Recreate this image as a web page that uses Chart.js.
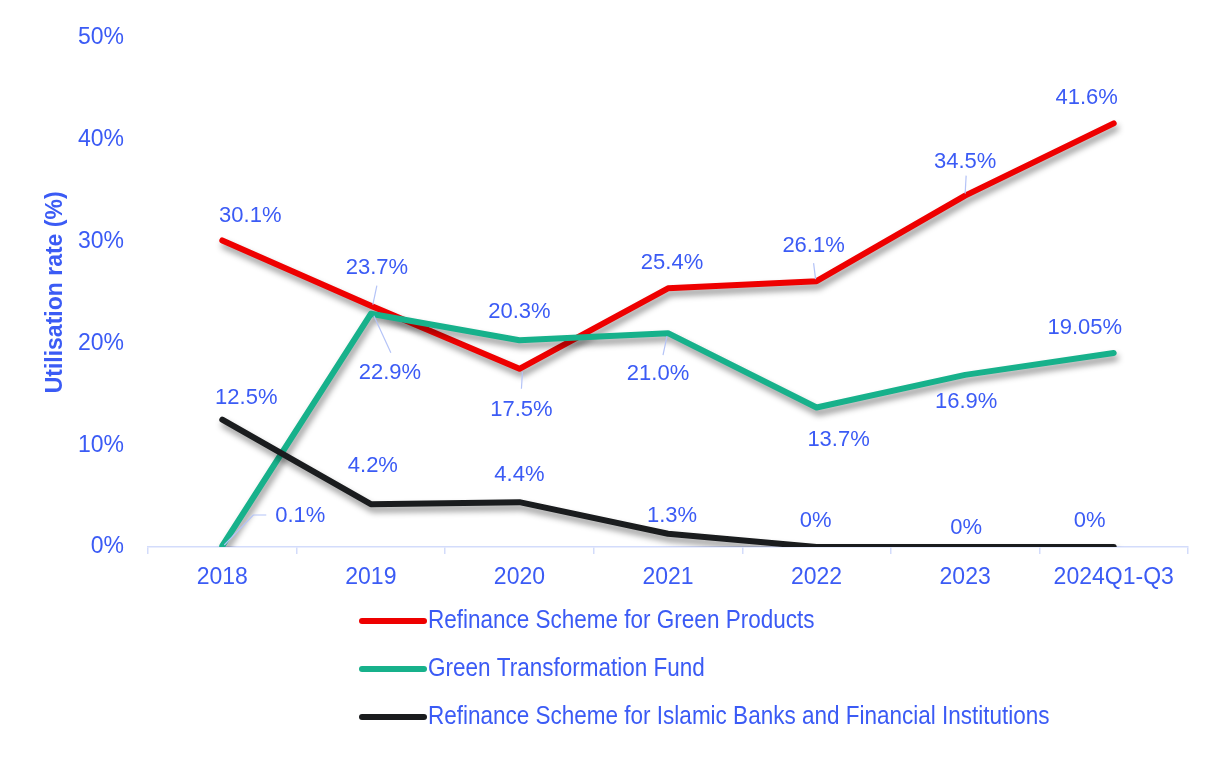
<!DOCTYPE html>
<html>
<head>
<meta charset="utf-8">
<script src="https://cdn.jsdelivr.net/npm/chart.js@4.4.1/dist/chart.umd.min.js"></script>
<style>
  html, body { margin: 0; padding: 0; background: #fff; }
  #wrap { width: 1228px; height: 768px; }
</style>
</head>
<body>
<div id="wrap"><canvas id="utilChart" width="1228" height="768"></canvas></div>
<script>
// Daten
const years = ['2018', '2019', '2020', '2021', '2022', '2023', '2024Q1-Q3'];
const seriesNames = [
    'Refinance Scheme for Green Products',
    'Green Transformation Fund',
    'Refinance Scheme for Islamic Banks and Financial Institutions'
];
const greenProducts = [30.1, 23.7, 17.5, 25.4, 26.1, 34.5, 41.6];
const greenTransformation = [0.1, 22.9, 20.3, 21.0, 13.7, 16.9, 19.05];
const islamicBanks = [12.5, 4.2, 4.4, 1.3, 0, 0, 0];
const greenProductsText = ['30.1%', '23.7%', '17.5%', '25.4%', '26.1%', '34.5%', '41.6%'];
const greenTransformationText = ['0.1%', '22.9%', '20.3%', '21.0%', '13.7%', '16.9%', '19.05%'];
const islamicBanksText = ['12.5%', '4.2%', '4.4%', '1.3%', '0%', '0%', '0%'];
const yTicks = [0, 10, 20, 30, 40, 50];

const BLUE = '#3b5bf5';
const FONT = '"Liberation Sans", Arial, sans-serif';

// Position der Beschriftungen relativ zum Punkt (dx, dy) und Hinweislinien
const labelPos = [
    [[28, -25], [6, -38], [2, 41], [4, -25], [-3, -35], [0, -34], [-27, -25]],
    [[78, -30], [19, 59], [0, -28], [-10, 41], [22, 32], [1, 27], [-29, -25]],
    [[24, -22], [2, -38], [0, -27], [4, -18], [-1, -26], [1, -19], [-24, -26]]
];
const leaders = [
    [null, [[6, -20], [2, -1]], [[3, 3], [2, 20]], null, [[-3, -18], [-1, -2]], [[1, -20], [0, -2]], null],
    [[[2, -1], [31, -31], [44, -31]], [[3, 2], [20, 39]], null, [[-1, 3], [-5, 22]], null, null, null],
    [null, null, null, null, null, null, null]
];
const labelTexts = [greenProductsText, greenTransformationText, islamicBanksText];

// Schatten unter den Linien
const shadowPlugin = {
    id: 'lineShadow',
    beforeDatasetDraw(chart) {
        const ctx = chart.ctx;
        ctx.save();
        ctx.shadowColor = 'rgba(0,0,0,0.42)';
        ctx.shadowBlur = 6;
        ctx.shadowOffsetX = 2;
        ctx.shadowOffsetY = 5;
    },
    afterDatasetDraw(chart) {
        chart.ctx.restore();
    }
};

// Datenbeschriftungen
const labelPlugin = {
    id: 'valueLabels',
    afterDatasetsDraw(chart) {
        const ctx = chart.ctx;
        ctx.save();
        ctx.font = '22px ' + FONT;
        ctx.fillStyle = BLUE;
        ctx.textAlign = 'center';
        ctx.textBaseline = 'middle';
        chart.data.datasets.forEach((ds, d) => {
            const meta = chart.getDatasetMeta(d);
            meta.data.forEach((pt, i) => {
                const lead = leaders[d][i];
                if (lead) {
                    ctx.strokeStyle = '#b4c3f7';
                    ctx.lineWidth = 1.2;
                    ctx.beginPath();
                    lead.forEach((p, k) => {
                        if (k === 0) ctx.moveTo(pt.x + p[0], pt.y + p[1]);
                        else ctx.lineTo(pt.x + p[0], pt.y + p[1]);
                    });
                    ctx.stroke();
                }
                const off = labelPos[d][i];
                ctx.fillText(labelTexts[d][i], pt.x + off[0], pt.y + off[1]);
            });
        });
        ctx.restore();
    }
};

// Legende unten, untereinander (schmale Schrift nachgebildet)
const legendPlugin = {
    id: 'stackedLegend',
    afterDraw(chart) {
        const ctx = chart.ctx;
        ctx.save();
        chart.data.datasets.forEach((ds, d) => {
            const y = 621 + d * 48;
            ctx.strokeStyle = ds.borderColor;
            ctx.lineWidth = 6;
            ctx.lineCap = 'round';
            ctx.beginPath();
            ctx.moveTo(362, y);
            ctx.lineTo(424, y);
            ctx.stroke();
            ctx.save();
            ctx.translate(428, y);
            ctx.scale(0.9, 1);
            ctx.font = '25px ' + FONT;
            ctx.fillStyle = BLUE;
            ctx.textAlign = 'left';
            ctx.textBaseline = 'middle';
            ctx.fillText(ds.label, 0, 0);
            ctx.restore();
        });
        ctx.restore();
    }
};

const ctx = document.getElementById('utilChart').getContext('2d');
new Chart(ctx, {
    type: 'line',
    data: {
        labels: years,
        datasets: [
            { label: seriesNames[0], data: greenProducts, borderColor: '#ee0000', order: 2 },
            { label: seriesNames[1], data: greenTransformation, borderColor: '#17b18b', order: 1 },
            { label: seriesNames[2], data: islamicBanks, borderColor: '#1a1c1e', order: 0 }
        ]
    },
    options: {
        responsive: false,
        animation: false,
        devicePixelRatio: 1,
        layout: { padding: { top: 32, right: 40, bottom: 161, left: 0 } },
        elements: {
            line: { borderWidth: 6, tension: 0, borderCapStyle: 'round', borderJoinStyle: 'round', fill: false },
            point: { radius: 0, hoverRadius: 0 }
        },
        plugins: {
            legend: { display: false },
            tooltip: { enabled: false }
        },
        scales: {
            x: {
                offset: true,
                grid: { display: true, offset: true, drawOnChartArea: false, drawTicks: true, tickLength: 7, color: '#d3dcfb', lineWidth: 1.5 },
                border: { display: true, color: '#d3dcfb', width: 1.5 },
                ticks: { color: BLUE, font: { family: FONT, size: 23 }, padding: 10, maxRotation: 0 },
                afterFit(scale) { scale.height = 60; }
            },
            y: {
                min: 0,
                max: 50,
                afterBuildTicks(scale) { scale.ticks = yTicks.map(v => ({ value: v })); },
                grid: { display: false, drawTicks: false },
                border: { display: false },
                ticks: { color: BLUE, font: { family: FONT, size: 23 }, padding: 24, callback: v => v + '%' },
                title: {
                    display: true,
                    text: 'Utilisation rate (%)',
                    color: BLUE,
                    font: { family: FONT, size: 23, weight: 'bold' },
                    padding: { top: 42, bottom: 0 }
                },
                afterFit(scale) { scale.width = 148; }
            }
        }
    },
    plugins: [shadowPlugin, labelPlugin, legendPlugin]
});
</script>
</body>
</html>
